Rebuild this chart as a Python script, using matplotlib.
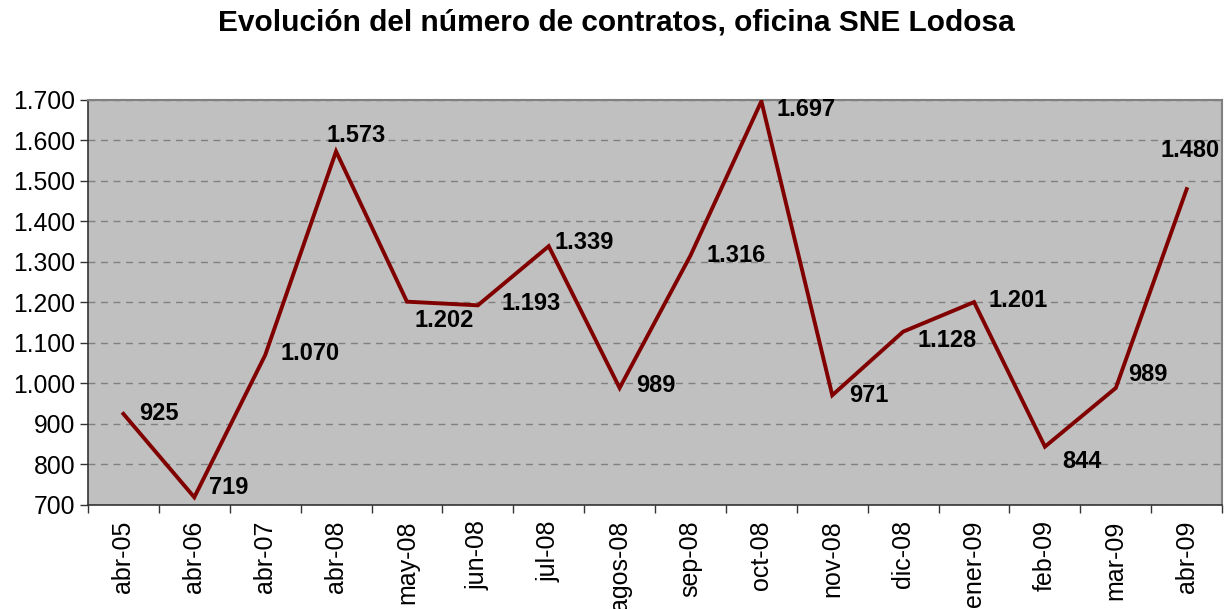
import matplotlib
matplotlib.use("Agg")
import matplotlib.pyplot as plt
from matplotlib.ticker import FuncFormatter, FixedLocator

plt.rcParams['font.family'] = ['Liberation Sans', 'DejaVu Sans']

categories = ["abr-05", "abr-06", "abr-07", "abr-08", "may-08", "jun-08", "jul-08",
              "agos-08", "sep-08", "oct-08", "nov-08", "dic-08", "ener-09", "feb-09",
              "mar-09", "abr-09"]
values = [925, 719, 1070, 1573, 1202, 1193, 1339, 989, 1316, 1697, 971, 1128, 1201,
          844, 989, 1480]
label_offsets = [(35, 0), (34, 10), (45, 2), (20, 16), (37, -19), (53, 2), (35, 4),
                 (36, 2), (46, 0), (45, -8), (37, 0), (44, -9), (44, 2), (37, -15),
                 (32, 13), (3, 39)]

def fmt(v, pos=None):
    return f"{int(round(v)):,}".replace(",", ".")

fig = plt.figure(figsize=(12.32, 6.09), dpi=100)
ax = fig.add_axes([0.0714, 0.1708, 0.9206, 0.665])
ax.set_facecolor('#C0C0C0')

x = list(range(len(categories)))
ax.plot(x, values, color='#800000', lw=2.8, zorder=3, solid_joinstyle='miter')

for xi, v, (dx, dy) in zip(x, values, label_offsets):
    ax.annotate(fmt(v), (xi, v), xytext=(dx * 0.72, dy * 0.72), textcoords='offset points',
                ha='center', va='center', fontsize=17, fontweight='bold', color='black',
                zorder=4)

ax.set_xlim(-0.5, len(categories) - 0.5)
ax.set_ylim(700, 1700)
ax.set_yticks(range(700, 1701, 100))
ax.yaxis.set_major_formatter(FuncFormatter(fmt))
ax.yaxis.grid(True, color='#808080', linestyle=(0, (5, 4)), lw=1)
ax.set_axisbelow(True)

ax.set_xticks(x)
ax.set_xticklabels(categories, rotation=90, fontsize=18)
ax.xaxis.set_minor_locator(FixedLocator([i - 0.5 for i in range(len(categories) + 1)]))
ax.tick_params(axis='x', which='major', length=0, pad=11)
ax.tick_params(axis='x', which='minor', length=6, width=1, color='#333333', direction='out')
ax.tick_params(axis='y', which='major', length=6, width=1, color='#333333', direction='out',
               labelsize=17.8, pad=3)

for s in ['left', 'bottom']:
    ax.spines[s].set_color('#333333')
    ax.spines[s].set_linewidth(1.2)
for s in ['top', 'right']:
    ax.spines[s].set_color('#808080')
    ax.spines[s].set_linewidth(1.5)

fig.text(0.5, 0.963, "Evolución del número de contratos, oficina SNE Lodosa",
         ha='center', va='center', fontsize=21.5, fontweight='bold')

fig.savefig('out.png', dpi=100)
